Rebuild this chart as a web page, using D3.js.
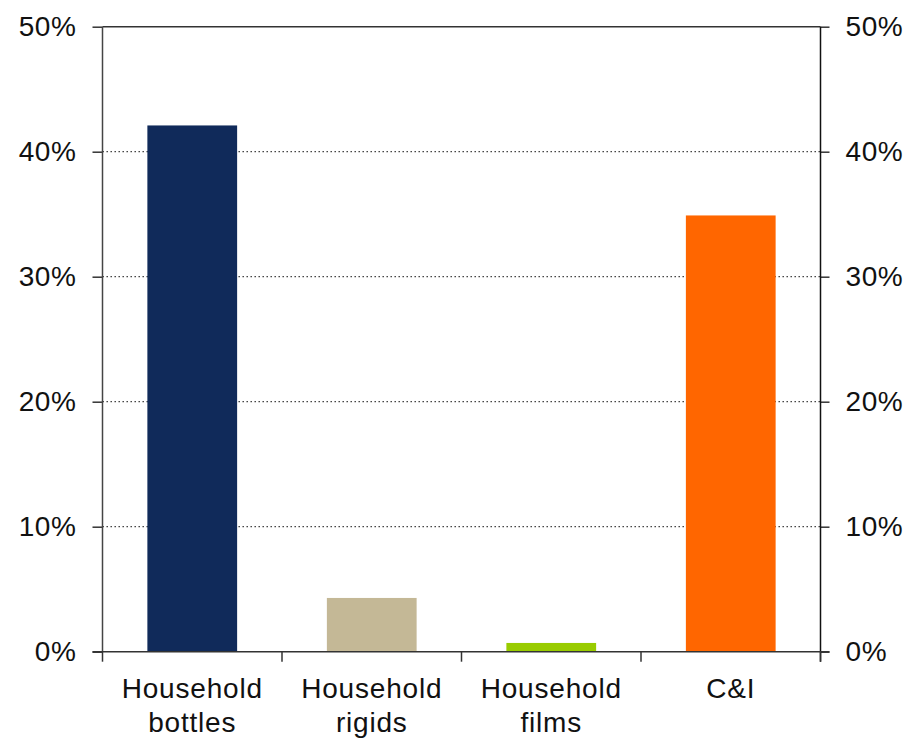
<!DOCTYPE html>
<html>
<head>
<meta charset="utf-8">
<script src="https://cdn.jsdelivr.net/npm/d3@7"></script>
<style>
  html, body { margin: 0; padding: 0; background: #fff; }
  svg text { font-family: "Liberation Sans", Arial, sans-serif; fill: #111; }
</style>
</head>
<body>
<svg id="chart" width="912" height="739"></svg>
<script>
const categories = [["Household", "bottles"], ["Household", "rigids"], ["Household", "films"], ["C&I"]];
const values = [42.1, 4.3, 0.7, 34.9];
const colors = ["#102a5a", "#c4b896", "#99cc00", "#ff6600"];
const yTicks = [0, 10, 20, 30, 40, 50];

const svg = d3.select("#chart");
const margin = { left: 102.5, right: 91.5, top: 26.7, bottom: 87.3 };
const W = 912, H = 739;
const x = d3.scaleBand().domain(d3.range(categories.length))
  .range([margin.left, W - margin.right]).paddingInner(0.5).paddingOuter(0.25);
const y = d3.scaleLinear().domain([0, 50]).range([H - margin.bottom, margin.top]);

// gridlines
svg.append("g").selectAll("line").data(yTicks.filter(t => t > 0 && t < 50)).join("line")
  .attr("x1", margin.left).attr("x2", W - margin.right)
  .attr("y1", d => y(d)).attr("y2", d => y(d))
  .attr("stroke", "#333").attr("stroke-width", 1.3).attr("stroke-dasharray", "1.4,2.6");
// top line
svg.append("line").attr("x1", margin.left).attr("x2", W - margin.right)
  .attr("y1", y(50)).attr("y2", y(50)).attr("stroke", "#333").attr("stroke-width", 1.5);

// bars
svg.append("g").selectAll("rect").data(values).join("rect")
  .attr("x", (d, i) => x(i)).attr("width", x.bandwidth())
  .attr("y", d => y(d)).attr("height", d => y(0) - y(d))
  .attr("fill", (d, i) => colors[i]);

// left axis
const yLeft = d3.axisLeft(y).tickValues(yTicks).tickFormat(d => d + "%").tickSize(10).tickPadding(16);
const gl = svg.append("g").attr("transform", `translate(${margin.left},0)`).call(yLeft);
// right axis
const yRight = d3.axisRight(y).tickValues(yTicks).tickFormat(d => d + "%").tickSize(9).tickPadding(16);
const gr = svg.append("g").attr("transform", `translate(${W - margin.right},0)`).call(yRight);
[gl, gr].forEach(g => {
  g.select(".domain").remove();
  g.selectAll(".tick line").attr("stroke", "#333").attr("stroke-width", 1.5);
  g.selectAll(".tick text").attr("font-size", 28).attr("letter-spacing", 0.6)
    .attr("font-family", "Liberation Sans, Arial, sans-serif").attr("fill", "#111");
});
// vertical axis lines
svg.append("line").attr("x1", margin.left).attr("x2", margin.left)
  .attr("y1", y(50)).attr("y2", y(0)).attr("stroke", "#444").attr("stroke-width", 1.5);
svg.append("line").attr("x1", W - margin.right).attr("x2", W - margin.right)
  .attr("y1", y(50)).attr("y2", y(0) + 10).attr("stroke", "#111").attr("stroke-width", 1.5);

// x axis baseline and category ticks
const step = x.step();
svg.append("line").attr("x1", margin.left - 10).attr("x2", W - margin.right + 9)
  .attr("y1", y(0)).attr("y2", y(0)).attr("stroke", "#333").attr("stroke-width", 1.5);
svg.append("g").selectAll("line").data(d3.range(categories.length + 1)).join("line")
  .attr("x1", i => margin.left + i * step).attr("x2", i => margin.left + i * step)
  .attr("y1", y(0)).attr("y2", y(0) + 10).attr("stroke", "#333").attr("stroke-width", 1.5);

// category labels
const lab = svg.append("g").selectAll("text").data(categories).join("text")
  .attr("text-anchor", "middle").attr("font-size", 28).attr("letter-spacing", 0.8)
  .attr("x", (d, i) => x(i) + x.bandwidth() / 2).attr("y", y(0) + 46);
lab.selectAll("tspan").data(d => d).join("tspan")
  .attr("x", function () { return this.parentNode.getAttribute("x"); })
  .attr("dy", (d, j) => j === 0 ? 0 : 34).text(d => d);
</script>
</body>
</html>
